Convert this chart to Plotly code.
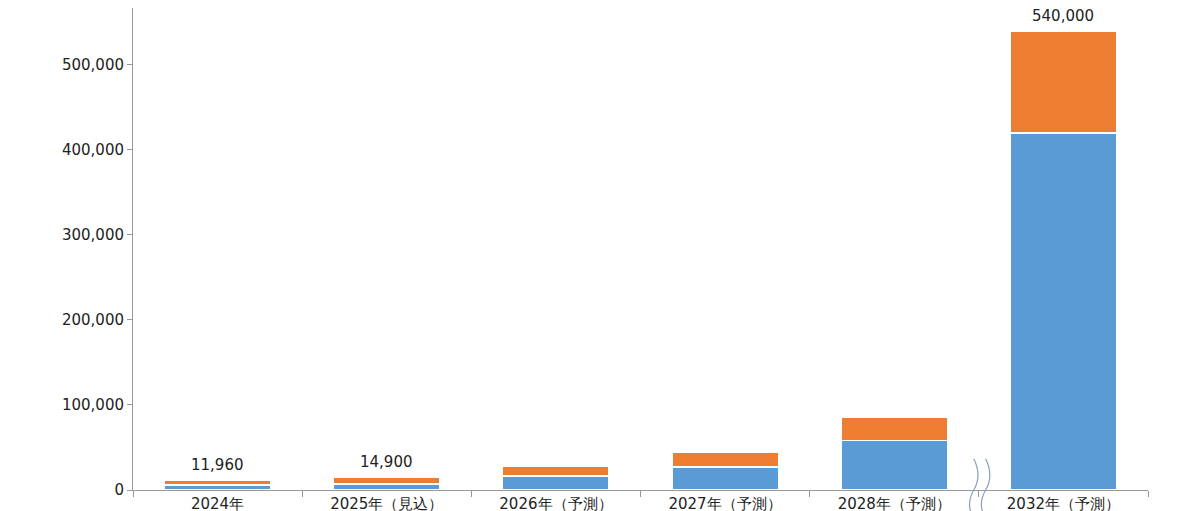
import plotly.graph_objects as go

categories = ["2024年", "2025年（見込）", "2026年（予測）", "2027年（予測）", "2028年（予測）", "2032年（予測）"]
blue_vals = [6000, 7000, 16500, 27000, 58000, 420000]
orange_vals = [5960, 7900, 11500, 18000, 27000, 120000]
total_labels = ["11,960", "14,900", "", "", "", "540,000"]

fig = go.Figure()
fig.add_bar(x=categories, y=blue_vals, marker=dict(color="#5b9bd5", line=dict(color="white", width=1.5)), width=0.63)
fig.add_bar(x=categories, y=orange_vals, marker=dict(color="#ed7d31", line=dict(color="white", width=1.5)), width=0.63)

totals = [b + o for b, o in zip(blue_vals, orange_vals)]
for c, t, lab in zip(categories, totals, total_labels):
    if lab:
        fig.add_annotation(x=c, y=t, text=lab, showarrow=False, yanchor="bottom", yshift=4,
                           font=dict(size=15, color="#222", family="DejaVu Sans"))

# axis break marks between 2028 and 2032
for dx in (0, 0.07):
    fig.add_shape(type="path", xref="x", yref="paper",
                  path=f"M {4.47+dx} -0.06 Q {4.42+dx} -0.03 {4.47+dx} 0.0 Q {4.52+dx} 0.03 {4.47+dx} 0.065",
                  line=dict(color="#8aa0b8", width=1.2))

fig.update_layout(
    barmode="stack", width=1200, height=511, showlegend=False,
    margin=dict(l=125, r=60, t=0, b=29),
    plot_bgcolor="white", paper_bgcolor="white",
    font=dict(family="DejaVu Sans", size=15, color="#222"),
    xaxis=dict(showline=True, linecolor="#999", ticks="outside", tickson="boundaries",
               ticklen=6, tickcolor="#999", tickfont=dict(size=15)),
    yaxis=dict(range=[0, 567000], showline=True, linecolor="#999", ticks="outside",
               ticklen=5, tickcolor="#999", tickvals=[0, 100000, 200000, 300000, 400000, 500000],
               tickformat=",", showgrid=False, zeroline=False, tickfont=dict(size=15)),
)
fig.write_html("out.html")
